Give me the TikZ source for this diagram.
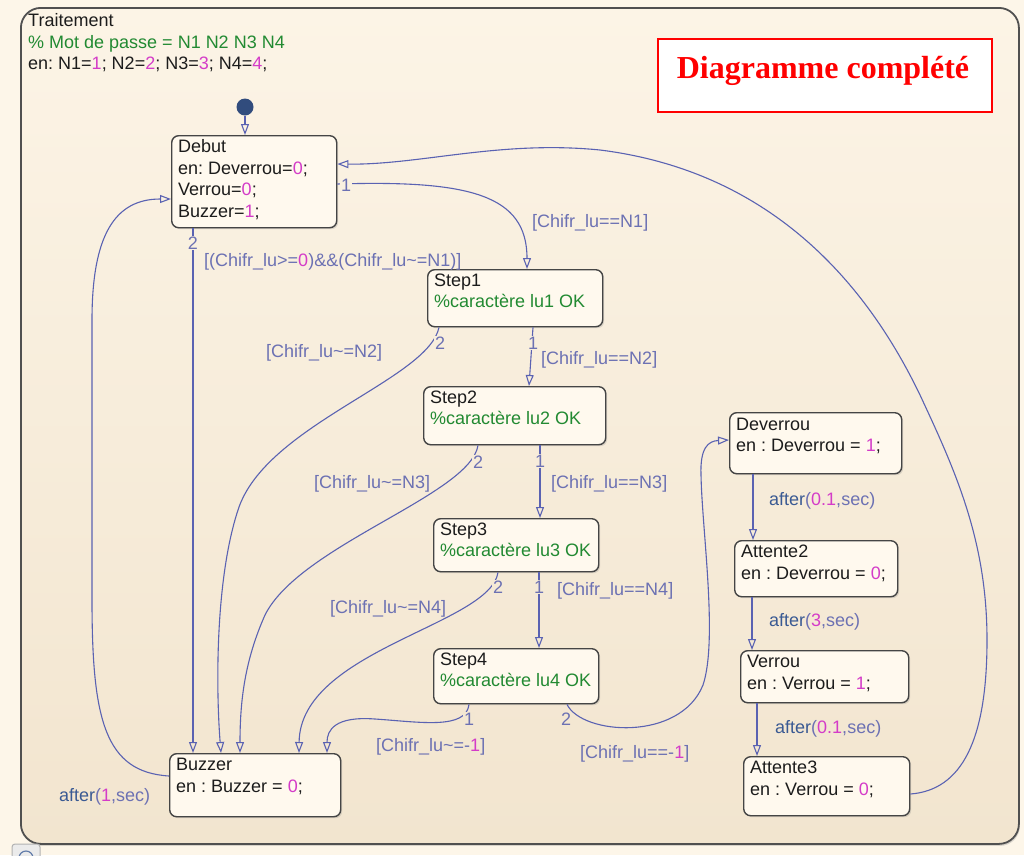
\documentclass[tikz,border=0pt]{standalone}
\usepackage{fontspec}
\setmainfont{Liberation Sans}
\newfontfamily\titlefont{Liberation Serif}
\usetikzlibrary{arrows.meta,shadows,calc}
\frenchspacing

\definecolor{pagebg}{HTML}{FDF6E9}
\definecolor{bgtop}{HTML}{FCF4E6}
\definecolor{bgbot}{HTML}{F2E5CF}
\definecolor{frameline}{HTML}{505050}
\definecolor{boxfill}{HTML}{FFF9EE}
\definecolor{boxline}{HTML}{454545}
\definecolor{trans}{HTML}{5A62B2}
\definecolor{lbl}{HTML}{6C71B3}
\definecolor{kw}{HTML}{3A5A93}
\definecolor{mag}{HTML}{D43CC8}
\definecolor{cmt}{HTML}{228A32}
\definecolor{ink}{HTML}{1C1C1C}
\definecolor{alert}{HTML}{FF0000}

\newcommand\mg[1]{\textcolor{mag}{#1}}
\newcommand\aftr[1]{\textcolor{kw}{after}(\textcolor{mag}{#1},sec)}

\begin{document}
\begin{tikzpicture}[x=1pt, y=-1pt,
  font=\fontsize{18}{21.5}\selectfont,
  >={Triangle[open,length=11pt,width=8pt]},
  statebox/.style={draw=boxline, line width=1.4pt, rounded corners=7pt,
    fill=boxfill, anchor=north west, inner sep=0pt,
    drop shadow={shadow xshift=1.5pt, shadow yshift=-1.5pt, opacity=.25}},
  stxt/.style={anchor=north west, inner sep=0pt, align=left, text=ink},
  tr/.style={draw=trans, line width=1.1pt, ->},
  glabel/.style={text=lbl, inner sep=1pt, anchor=west},
  digit/.style={text=lbl, inner sep=1pt, fill=bgtop!#1!bgbot}]

% page and chart frame
\useasboundingbox (0,0) rectangle (1024,855);
\fill[pagebg] (0,0) rectangle (1024,855);
\node[draw=frameline, line width=1.8pt, rounded corners=20pt,
  top color=bgtop, bottom color=bgbot, anchor=north west, inner sep=0pt,
  minimum width=998pt, minimum height=836pt,
  drop shadow={shadow xshift=1pt, shadow yshift=-2pt, opacity=.3}]
  (Traitement) at (20,7) {};

% small toolbar button at the lower left corner
\draw[fill=black!8, draw=black!30, line width=1pt, rounded corners=3pt]
  (12,844) rectangle (40,872);
\draw[draw=kw!80, line width=1.2pt] (26,858) circle (7);

% chart header
\node[stxt] (Header) at (28,13.5) {Traitement\\
  \textcolor{cmt}{\% Mot de passe = N1 N2 N3 N4}\\
  en: N1=\mg{1}; N2=\mg{2}; N3=\mg{3}; N4=\mg{4};};

% status tag
\node[draw=alert, line width=1.5pt, fill=white, anchor=north west,
  inner sep=0pt, minimum width=334pt, minimum height=73pt] (Tag) at (657,38) {};
\node[text=alert, font=\titlefont\bfseries\fontsize{32}{36}\selectfont,
  inner sep=0pt] (TagText) at (823,71) {Diagramme complété};

% states
\node[statebox, minimum width=165pt, minimum height=92pt] (Debut) at (171,135) {};
\node[statebox, minimum width=175pt, minimum height=57pt] (Step1) at (427,269) {};
\node[statebox, minimum width=182pt, minimum height=58pt] (Step2) at (423,386) {};
\node[statebox, minimum width=165pt, minimum height=53pt] (Step3) at (433,518) {};
\node[statebox, minimum width=165pt, minimum height=55pt] (Step4) at (433,648) {};
\node[statebox, minimum width=171pt, minimum height=63pt] (Buzzer) at (169,753) {};
\node[statebox, minimum width=172pt, minimum height=61pt] (Deverrou) at (729,412) {};
\node[statebox, minimum width=163pt, minimum height=56pt] (Attente2) at (734,540) {};
\node[statebox, minimum width=168pt, minimum height=52pt] (Verrou) at (740,650) {};
\node[statebox, minimum width=166pt, minimum height=59pt] (Attente3) at (743,756) {};

\node[stxt] (DebutT) at ([shift={(7pt,-4.5pt)}]Debut.north west)
  {Debut\\en: Deverrou=\mg{0};\\Verrou=\mg{0};\\Buzzer=\mg{1};};
\node[stxt] (Step1T) at ([shift={(7pt,-4.5pt)}]Step1.north west)
  {Step1\\\textcolor{cmt}{\%caractère lu1 OK}};
\node[stxt] (Step2T) at ([shift={(7pt,-4.5pt)}]Step2.north west)
  {Step2\\\textcolor{cmt}{\%caractère lu2 OK}};
\node[stxt] (Step3T) at ([shift={(7pt,-4.5pt)}]Step3.north west)
  {Step3\\\textcolor{cmt}{\%caractère lu3 OK}};
\node[stxt] (Step4T) at ([shift={(7pt,-4.5pt)}]Step4.north west)
  {Step4\\\textcolor{cmt}{\%caractère lu4 OK}};
\node[stxt] (BuzzerT) at ([shift={(7pt,-5pt)}]Buzzer.north west)
  {Buzzer\\en : Buzzer = \mg{0};};
\node[stxt] (DeverrouT) at ([shift={(7pt,-5.5pt)}]Deverrou.north west)
  {Deverrou\\en : Deverrou = \mg{1};};
\node[stxt] (Attente2T) at ([shift={(7pt,-5pt)}]Attente2.north west)
  {Attente2\\en : Deverrou = \mg{0};};
\node[stxt] (VerrouT) at ([shift={(7pt,-5pt)}]Verrou.north west)
  {Verrou\\en : Verrou = \mg{1};};
\node[stxt] (Attente3T) at ([shift={(7pt,-5pt)}]Attente3.north west)
  {Attente3\\en : Verrou = \mg{0};};

% default transition
\node[circle, fill=kw!85!black, draw=none, inner sep=0pt, minimum size=17pt]
  (Init) at (245,107) {};
\draw[tr] (Init) -- ([xshift=74pt]Debut.north west);

% transitions
\draw[tr] ([yshift=-49pt]Debut.north east)
  .. controls (470,180) and (527,195) .. ([xshift=100pt]Step1.north west);
\draw[tr] ([xshift=22pt]Debut.south west) -- ([xshift=24pt]Buzzer.north west);
\draw[tr] ([xshift=106pt]Step1.south west) -- ([xshift=106pt]Step2.north west);
\draw[tr] ([xshift=12pt]Step1.south west)
  .. controls (428,380) and (265,425) .. (238,510)
  .. controls (215,580) and (216,690) .. ([xshift=52pt]Buzzer.north west);
\draw[tr] ([xshift=117pt]Step2.south west) -- ([xshift=107pt]Step3.north west);
\draw[tr] ([xshift=55pt]Step2.south west)
  .. controls (470,495) and (300,545) .. (265,615)
  .. controls (245,660) and (240,700) .. ([xshift=71pt]Buzzer.north west);
\draw[tr] ([xshift=106pt]Step3.south west) -- ([xshift=106pt]Step4.north west);
\draw[tr] ([xshift=65pt]Step3.south west)
  .. controls (490,625) and (300,650) .. ([xshift=130pt]Buzzer.north west);
\draw[tr] ([xshift=36pt]Step4.south west)
  .. controls (466,730) and (420,722) .. (375,719)
  .. controls (335,716) and (327,730) .. ([xshift=158pt]Buzzer.north west);
\draw[tr] ([xshift=134pt]Step4.south west)
  .. controls (582,735) and (680,742) .. (703,685)
  .. controls (718,640) and (702,530) .. (701,475)
  .. controls (700,448) and (708,441) .. ([yshift=-28pt]Deverrou.north west);
\draw[tr] ([xshift=24pt]Deverrou.south west) -- ([xshift=19pt]Attente2.north west);
\draw[tr] ([xshift=18pt]Attente2.south west) -- ([xshift=12pt]Verrou.north west);
\draw[tr] ([xshift=17pt]Verrou.south west) -- ([xshift=14pt]Attente3.north west);
\draw[tr] ([yshift=-38pt]Attente3.north east)
  .. controls (962,790) and (987,740) .. (987,640)
  .. controls (987,540) and (955,470) .. (920,395)
  .. controls (860,270) and (760,170) .. (600,150)
  .. controls (500,140) and (420,165) .. ([yshift=-29pt]Debut.north east);
\draw[tr] ([yshift=-23pt]Buzzer.north west)
  .. controls (105,772) and (92,720) .. (92,600) -- (92,320)
  .. controls (92,235) and (115,199) .. ([yshift=-64pt]Debut.north west);

% execution order numbers
\node[digit=79] (o1) at (346,185) {1};
\node[digit=72] (o2) at (193,243) {2};
\node[digit=60] (o3) at (440,343) {2};
\node[digit=60] (o4) at (533,343) {1};
\node[digit=46] (o5) at (478,462) {2};
\node[digit=46] (o6) at (540,461) {1};
\node[digit=31] (o7) at (498,587) {2};
\node[digit=31] (o8) at (539,587) {1};
\node[digit=15] (o9) at (469,719) {1};
\node[digit=15] (o10) at (566,719) {2};

% guards and events
\node[glabel] (g1) at (531,223) {[Chifr\_lu==N1]};
\node[glabel] (g2) at (203,262) {[(Chifr\_lu>=\mg{0})\&\&(Chifr\_lu\textasciitilde=N1)]};
\node[glabel] (g3) at (265,353) {[Chifr\_lu\textasciitilde=N2]};
\node[glabel] (g4) at (540,360) {[Chifr\_lu==N2]};
\node[glabel] (g5) at (313,484) {[Chifr\_lu\textasciitilde=N3]};
\node[glabel] (g6) at (550,484) {[Chifr\_lu==N3]};
\node[glabel] (g7) at (329,609) {[Chifr\_lu\textasciitilde=N4]};
\node[glabel] (g8) at (556,591) {[Chifr\_lu==N4]};
\node[glabel] (g9) at (375,747) {[Chifr\_lu\textasciitilde=-\mg{1}]};
\node[glabel] (g10) at (579,754) {[Chifr\_lu==-\mg{1}]};
\node[glabel] (e1) at (768,501) {\aftr{0.1}};
\node[glabel] (e2) at (768,622) {\aftr{3}};
\node[glabel] (e3) at (774,729) {\aftr{0.1}};
\node[glabel] (e4) at (58,797) {\aftr{1}};
\end{tikzpicture}
\end{document}
